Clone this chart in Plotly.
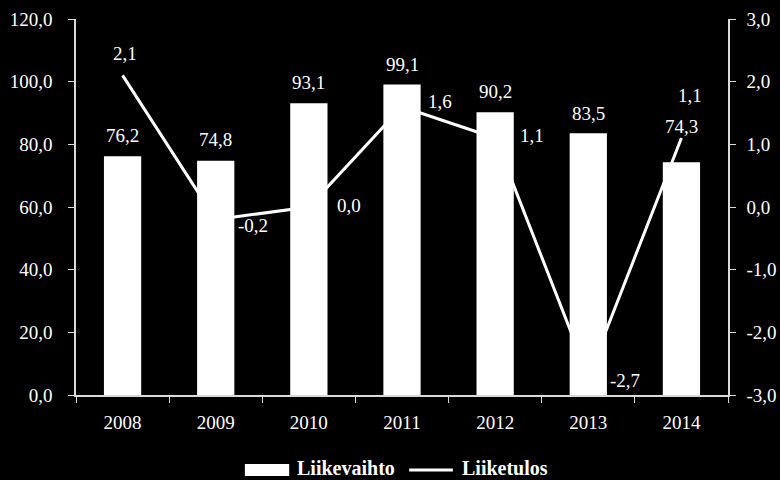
import plotly.graph_objects as go

# Yearly figures
years = ["2008", "2009", "2010", "2011", "2012", "2013", "2014"]
liikevaihto = [76.2, 74.8, 93.1, 99.1, 90.2, 83.5, 74.3]
liiketulos = [2.1, -0.2, 0.0, 1.6, 1.1, -2.7, 1.1]

left_ticks = [0, 20, 40, 60, 80, 100, 120]
right_ticks = [-3, -2, -1, 0, 1, 2, 3]


def fi(v):
    return f"{v:.1f}".replace(".", ",")


FONT = "Liberation Serif, Times New Roman, serif"
AXIS_COL = "#d9d9d9"
FS = 19

# label offsets (pixels) for the value labels
bar_label_dy = [21, 21, 21, 20, 21, 20, 36]
line_label_dx = [2, 37, 40, 38, 37, 37, 9]
line_label_dy = [22, -6, 2, 5, 3, -4, 43]

fig = go.Figure()

# line on the base axis so the bars (overlaying axis) sit on top of it
fig.add_trace(go.Scatter(
    x=years, y=liiketulos, mode="lines", name="Liiketulos",
    line=dict(color="white", width=3), yaxis="y", showlegend=False,
))
fig.add_trace(go.Bar(
    x=years, y=liikevaihto, name="Liikevaihto",
    marker=dict(color="white", line=dict(width=0)), yaxis="y2",
    showlegend=False,
))

annotations = []
# category axis: annotations are placed by category index
for i, (v, dy) in enumerate(zip(liikevaihto, bar_label_dy)):
    annotations.append(dict(
        x=i, y=v, xref="x", yref="y2", text=fi(v), showarrow=False,
        xanchor="center", yanchor="middle", yshift=dy,
        font=dict(family=FONT, size=FS, color="white"),
    ))
for i, (v, dx, dy) in enumerate(zip(liiketulos, line_label_dx, line_label_dy)):
    annotations.append(dict(
        x=i, y=v, xref="x", yref="y", text=fi(v), showarrow=False,
        xanchor="center", yanchor="middle", xshift=dx, yshift=dy,
        font=dict(family=FONT, size=FS, color="white"),
    ))

# legend drawn below the plot
leg_y = -0.1995
text_y = -0.194
annotations.append(dict(
    x=0.336, y=text_y, xref="paper", yref="paper", text="<b>Liikevaihto</b>",
    showarrow=False, xanchor="left", yanchor="middle",
    font=dict(family=FONT, size=20, color="white"),
))
annotations.append(dict(
    x=0.589, y=text_y, xref="paper", yref="paper", text="<b>Liiketulos</b>",
    showarrow=False, xanchor="left", yanchor="middle",
    font=dict(family=FONT, size=20, color="white"),
))
shapes = [
    dict(type="rect", xref="paper", yref="paper", x0=0.259, x1=0.327,
         y0=-0.2154, y1=-0.1835, fillcolor="white", line=dict(width=0)),
    dict(type="line", xref="paper", yref="paper", x0=0.511, x1=0.578,
         y0=leg_y, y1=leg_y, line=dict(color="white", width=3)),
]

fig.update_layout(
    width=780, height=480,
    margin=dict(l=76, r=52, t=19, b=85),
    paper_bgcolor="black", plot_bgcolor="black",
    font=dict(family=FONT, size=FS, color="white"),
    bargap=0.6,
    showlegend=False,
    annotations=annotations,
    shapes=shapes,
    xaxis=dict(
        type="category", range=[-0.5, len(years) - 0.5], automargin=False,
        tickson="boundaries", ticks="outside", ticklen=6,
        tickcolor=AXIS_COL, showline=True, linecolor=AXIS_COL, linewidth=1.5,
        showgrid=False, zeroline=False, ticklabelstandoff=9, tickangle=0,
        tickfont=dict(family=FONT, size=FS, color="white"),
    ),
    yaxis=dict(
        side="right", range=[-3, 3], tickvals=right_ticks, automargin=False,
        ticktext=[fi(t) for t in right_ticks],
        ticks="outside", ticklen=6, tickcolor=AXIS_COL,
        showline=True, linecolor=AXIS_COL, linewidth=1.5,
        showgrid=False, zeroline=False, ticklabelstandoff=7,
        tickfont=dict(family=FONT, size=FS, color="white"),
    ),
    yaxis2=dict(
        side="left", overlaying="y", range=[0, 120], tickvals=left_ticks,
        automargin=False, ticktext=[fi(t) for t in left_ticks],
        ticks="outside", ticklen=6, tickcolor=AXIS_COL,
        showline=True, linecolor=AXIS_COL, linewidth=1.5,
        showgrid=False, zeroline=False, ticklabelstandoff=12,
        tickfont=dict(family=FONT, size=FS, color="white"),
    ),
)

fig.write_html("out.html")
